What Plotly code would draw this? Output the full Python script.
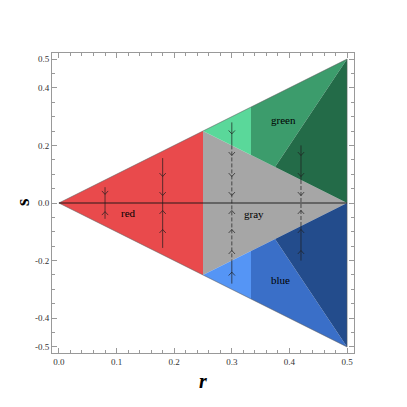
import plotly.graph_objects as go

# region polygons (r, s vertices)
regions = {
    "red":         ([0.0, 0.25, 0.25], [0.0, 0.25, -0.25]),
    "gray":        ([0.25, 0.5, 0.25], [0.25, 0.0, -0.25]),
    "green_light": ([0.25, 1/3, 1/3], [0.25, 1/3, 1/6]),
    "green_mid":   ([1/3, 0.5, 0.375, 1/3], [1/3, 0.5, 0.125, 1/6]),
    "green_dark":  ([0.375, 0.5, 0.5], [0.125, 0.5, 0.0]),
    "blue_light":  ([0.25, 1/3, 1/3], [-0.25, -1/3, -1/6]),
    "blue_mid":    ([1/3, 0.5, 0.375, 1/3], [-1/3, -0.5, -0.125, -1/6]),
    "blue_dark":   ([0.375, 0.5, 0.5], [-0.125, -0.5, 0.0]),
}
region_colors = {
    "red": "#e94a4c", "gray": "#a6a6a6",
    "green_light": "#5ad89a", "green_mid": "#3c9c6c", "green_dark": "#236b48",
    "blue_light": "#5595f5", "blue_mid": "#3a6fc8", "blue_dark": "#234c8c",
}

# flow lines: r, s_top, s_bottom
solid_r = [0.08, 0.18, 0.30, 0.30, 0.42, 0.42]
solid_top = [0.055, 0.156, 0.28, -0.2, 0.2, -0.08]
solid_bot = [-0.055, -0.156, 0.2, -0.28, 0.08, -0.2]
dashed_r = [0.30, 0.42]
dashed_top = [0.2, 0.08]
dashed_bot = [-0.2, -0.08]

# arrowheads (tips) pointing towards s = 0
head_r = [0.08, 0.18, 0.18, 0.30, 0.30, 0.30, 0.30, 0.42, 0.42, 0.42]
head_s = [0.03, 0.092, 0.026, 0.24, 0.165, 0.092, 0.026, 0.165, 0.092, 0.026]

labels = ["red", "gray", "green", "blue"]
label_r = [0.121, 0.338, 0.39, 0.384]
label_s = [-0.035, -0.038, 0.288, -0.267]

flow_color = "rgba(30,30,30,0.7)"

fig = go.Figure()
for name, (rr, ss) in regions.items():
    fig.add_trace(go.Scatter(x=rr + [rr[0]], y=ss + [ss[0]], mode="lines", fill="toself",
                             fillcolor=region_colors[name], line=dict(width=0),
                             hoverinfo="skip", showlegend=False))

# outline of whole wedge
fig.add_trace(go.Scatter(x=[0, 0.5, 0.5, 0], y=[0, 0.5, -0.5, 0], mode="lines",
                         line=dict(color="rgba(90,90,90,0.7)", width=0.8),
                         hoverinfo="skip", showlegend=False))
# s = 0 line
fig.add_trace(go.Scatter(x=[0, 0.5], y=[0, 0], mode="lines",
                         line=dict(color="rgba(20,20,20,0.9)", width=1),
                         hoverinfo="skip", showlegend=False))

for r, a, b in zip(solid_r, solid_top, solid_bot):
    fig.add_trace(go.Scatter(x=[r, r], y=[a, b], mode="lines",
                             line=dict(color=flow_color, width=1),
                             hoverinfo="skip", showlegend=False))
for r, a, b in zip(dashed_r, dashed_top, dashed_bot):
    fig.add_trace(go.Scatter(x=[r, r], y=[a, b], mode="lines",
                             line=dict(color=flow_color, width=1, dash="4px,2px"),
                             hoverinfo="skip", showlegend=False))

# chevron heads, about 3 px half-width / 3.5 px tall
dx, dy = 0.0055, 0.012
cx, cy = [], []
for r, s in zip(head_r, head_s):
    for sign in (1, -1):
        tip = sign * s
        cx += [r - dx, r, r + dx, None]
        cy += [tip + sign * dy, tip, tip + sign * dy, None]
fig.add_trace(go.Scatter(x=cx, y=cy, mode="lines", line=dict(color=flow_color, width=1),
                         hoverinfo="skip", showlegend=False))

for t, r, s in zip(labels, label_r, label_s):
    fig.add_annotation(x=r, y=s, text=t, showarrow=False,
                       font=dict(family="Liberation Serif", size=11, color="black"))

fig.add_annotation(xref="paper", yref="paper", x=0, y=0.5, xshift=-30, text="s",
                   textangle=-90, showarrow=False, xanchor="center", yanchor="middle",
                   font=dict(family="Liberation Serif", size=19, color="black", weight="bold"))
fig.add_annotation(xref="paper", yref="paper", x=0.5, y=0, yshift=-28, text="r",
                   showarrow=False, xanchor="center", yanchor="middle",
                   font=dict(family="Liberation Serif", size=20, color="black",
                             weight="bold", style="italic"))

axis_common = dict(showgrid=False, zeroline=False, showline=True, linecolor="#999999",
                   linewidth=1, mirror="ticks", ticks="inside", ticklen=5,
                   tickcolor="#999999", tickwidth=1,
                   tickfont=dict(family="Liberation Serif", size=9, color="#333333"))

# page body adds 8 px offset, so margins are shifted to compensate
fig.update_layout(
    width=407, height=407,
    margin=dict(l=44, r=61, t=45, b=62),
    plot_bgcolor="white", paper_bgcolor="white",
    xaxis=dict(range=[-0.012, 0.512], tickvals=[0, 0.1, 0.2, 0.3, 0.4, 0.5],
               ticktext=["0.0", "0.1", "0.2", "0.3", "0.4", "0.5"],
               minor=dict(ticks="inside", dtick=0.02, tick0=0, ticklen=3,
                          tickcolor="#999999"),
               **axis_common),
    yaxis=dict(range=[-0.521, 0.521], tickvals=[-0.5, -0.4, -0.2, 0, 0.2, 0.4, 0.5],
               ticktext=["-0.5", "-0.4", "-0.2", "0.0", "0.2", "0.4", "0.5"],
               minor=dict(ticks="inside", dtick=0.05, tick0=0, ticklen=3,
                          tickcolor="#999999"),
               **axis_common),
)

fig.write_html("out.html")
